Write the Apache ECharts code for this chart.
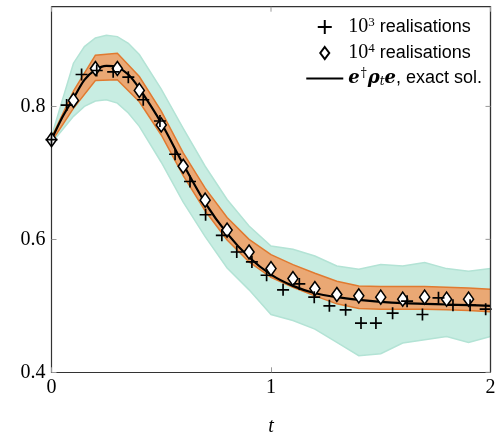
<!DOCTYPE html>
<html>
<head>
<meta charset="utf-8">
<script src="https://cdn.jsdelivr.net/npm/echarts@6/dist/echarts.min.js"></script>
<style>
html,body{margin:0;padding:0;background:#fff;}
#chart{width:497px;height:432px;}
</style>
</head>
<body>
<div id="chart"></div>
<script>
// ---- data ----
const xTicks = [0, 1, 2];
const yTicks = [0.4, 0.6, 0.8];
const xRange = [0, 2];
const yRange = [0.4, 0.95];

// exact solution e^† rho_t e
const exactT = [0, 0.05, 0.1, 0.15, 0.2, 0.25, 0.3, 0.35, 0.4, 0.5, 0.6, 0.7, 0.8, 0.9, 1.0, 1.1, 1.2, 1.3, 1.4, 1.5, 1.6, 1.7, 1.8, 1.9, 2.0];
const exactV = [0.750, 0.784, 0.812, 0.840, 0.855, 0.861, 0.859, 0.848, 0.827, 0.775, 0.713, 0.655, 0.609, 0.573, 0.547, 0.530, 0.519, 0.513, 0.509, 0.506, 0.504, 0.503, 0.502, 0.501, 0.500];

// 10^3 realisations (crosses)
const t3 = [0, 0.069, 0.137, 0.206, 0.281, 0.350, 0.418, 0.494, 0.563, 0.631, 0.702, 0.776, 0.844, 0.913, 0.980, 1.055, 1.129, 1.197, 1.266, 1.340, 1.410, 1.478, 1.554, 1.620, 1.690, 1.763, 1.829, 1.907, 1.978];
const v3 = [0.750, 0.802, 0.848, 0.854, 0.852, 0.844, 0.810, 0.778, 0.728, 0.687, 0.637, 0.606, 0.581, 0.566, 0.546, 0.524, 0.533, 0.513, 0.500, 0.494, 0.474, 0.474, 0.489, 0.507, 0.487, 0.512, 0.501, 0.501, 0.495];

// 10^4 realisations (diamonds)
const t4 = [0, 0.1, 0.2, 0.3, 0.4, 0.5, 0.6, 0.7, 0.8, 0.9, 1.0, 1.1, 1.2, 1.3, 1.4, 1.5, 1.6, 1.7, 1.8, 1.9];
const v4 = [0.750, 0.809, 0.857, 0.857, 0.824, 0.772, 0.710, 0.659, 0.614, 0.581, 0.556, 0.541, 0.526, 0.517, 0.515, 0.513, 0.510, 0.513, 0.510, 0.510];

// spread band of 10^3 realisations
const band3T = [0, 0.05, 0.1, 0.15, 0.2, 0.25, 0.3, 0.35, 0.4, 0.5, 0.6, 0.7, 0.8, 0.9, 1.0, 1.1, 1.2, 1.3, 1.4, 1.5, 1.6, 1.7, 1.8, 1.9, 2.0];
const band3Hi = [0.755, 0.810, 0.865, 0.890, 0.903, 0.907, 0.905, 0.895, 0.878, 0.826, 0.767, 0.710, 0.660, 0.620, 0.590, 0.585, 0.575, 0.560, 0.555, 0.562, 0.560, 0.565, 0.556, 0.552, 0.556];
const band3Lo = [0.745, 0.765, 0.785, 0.800, 0.808, 0.810, 0.805, 0.790, 0.770, 0.716, 0.656, 0.604, 0.557, 0.524, 0.487, 0.478, 0.465, 0.445, 0.425, 0.428, 0.444, 0.449, 0.454, 0.445, 0.454];

// spread band of 10^4 realisations
const band4T = [0, 0.1, 0.2, 0.3, 0.4, 0.5, 0.6, 0.7, 0.8, 0.9, 1.0, 1.1, 1.2, 1.3, 1.4, 1.5, 1.6, 1.7, 1.8, 1.9, 2.0];
const band4Hi = [0.753, 0.823, 0.877, 0.880, 0.845, 0.793, 0.730, 0.677, 0.633, 0.600, 0.577, 0.562, 0.549, 0.537, 0.530, 0.529, 0.529, 0.529, 0.528, 0.527, 0.525];
const band4Lo = [0.747, 0.797, 0.839, 0.840, 0.807, 0.757, 0.696, 0.643, 0.599, 0.566, 0.543, 0.528, 0.515, 0.503, 0.496, 0.495, 0.495, 0.495, 0.494, 0.493, 0.491];

// ---- chart ----
const chart = echarts.init(document.getElementById('chart'), null, {renderer: 'canvas'});

function band(tArr, lo, hi, fill, edge) {
  return {
    type: 'custom', silent: true, z: 1, clip: true,
    coordinateSystem: 'cartesian2d',
    data: [[tArr[0], lo[0]]],
    renderItem: function (params, api) {
      const up = tArr.map((t, i) => api.coord([t, hi[i]]));
      const dn = tArr.map((t, i) => api.coord([t, lo[i]]));
      const poly = up.concat(dn.slice().reverse());
      return {
        type: 'group',
        children: [
          {type: 'polygon', shape: {points: poly}, style: {fill: fill}},
          {type: 'polyline', shape: {points: up}, style: {stroke: edge, lineWidth: 1.5, fill: null}},
          {type: 'polyline', shape: {points: dn}, style: {stroke: edge, lineWidth: 1.5, fill: null}}
        ]
      };
    }
  };
}

const serif = 'Liberation Serif';
const frameColor = '#333';
const tickColor = '#999';

// top and right edges of the frame, with inward ticks, placed via the axes' scales
const frameSeries = {
  type: 'custom', silent: true, z: 8, clip: false,
  coordinateSystem: 'cartesian2d',
  data: [[xRange[1], yRange[1]]],
  renderItem: function (params, api) {
    const tl = api.coord([xRange[0], yRange[1]]);
    const tr = api.coord([xRange[1], yRange[1]]);
    const br = api.coord([xRange[1], yRange[0]]);
    const kids = [
      {type: 'polyline', shape: {points: [tl, tr, br]}, style: {stroke: frameColor, lineWidth: 1.3, fill: null}}
    ];
    xTicks.forEach(x => {
      const p = api.coord([x, yRange[1]]);
      kids.push({type: 'line', shape: {x1: p[0], y1: p[1], x2: p[0], y2: p[1] + 5}, style: {stroke: tickColor, lineWidth: 1}});
    });
    yTicks.forEach(y => {
      const p = api.coord([xRange[1], y]);
      kids.push({type: 'line', shape: {x1: p[0], y1: p[1], x2: p[0] - 5, y2: p[1]}, style: {stroke: tickColor, lineWidth: 1}});
    });
    return {type: 'group', children: kids};
  }
};

const option = {
  animation: false,
  grid: {left: 51.5, right: 6.5, top: 6.7, bottom: 59.7, containLabel: false, outerBoundsMode: 'none'},
  xAxis: {
    type: 'value', min: xRange[0], max: xRange[1], interval: 1,
    axisLine: {show: true, onZero: false, lineStyle: {color: frameColor, width: 1.2}},
    axisTick: {show: true, inside: true, length: 5, lineStyle: {color: tickColor, width: 1}},
    splitLine: {show: false},
    axisLabel: {fontFamily: serif, fontSize: 20, color: '#000', margin: 5,
      formatter: v => xTicks.includes(v) ? String(v) : ''},
    name: 't', nameLocation: 'middle', nameGap: 44,
    nameTextStyle: {fontFamily: serif, fontStyle: 'italic', fontSize: 20, color: '#000'}
  },
  yAxis: {
    type: 'value', min: yRange[0], max: yRange[1], interval: 0.2,
    axisLine: {show: true, onZero: false, lineStyle: {color: frameColor, width: 1.2}},
    axisTick: {show: true, inside: true, length: 5, lineStyle: {color: tickColor, width: 1}},
    splitLine: {show: false},
    axisLabel: {fontFamily: serif, fontSize: 20, color: '#000', margin: 6,
      formatter: v => yTicks.some(y => Math.abs(y - v) < 1e-6) ? v.toFixed(1) : ''}
  },
  legend: {
    orient: 'vertical', right: 10, top: 11, itemGap: 5, itemWidth: 37, itemHeight: 14,
    align: 'left', selectedMode: false,
    data: [
      {name: '10^3'},
      {name: '10^4', icon: 'path://M0,0M18.5,1L23,7L18.5,13L14,7ZM37,14'},
      {name: 'exact', icon: 'path://M0,0M0,5.9H37V8.1H0ZM37,14'}
    ],
    textStyle: {
      fontFamily: 'Liberation Sans', fontSize: 18, color: '#000',
      rich: {
        m: {fontFamily: serif, fontSize: 20, color: '#000'},
        sup: {fontFamily: serif, fontSize: 13, color: '#000', padding: [0, 0, 9, 0]},
        s: {fontFamily: 'Liberation Sans', fontSize: 18, color: '#000'},
        b: {fontFamily: 'DejaVu Serif', fontStyle: 'italic', fontWeight: 'bold', fontSize: 18, color: '#000'},
        dag: {fontFamily: 'DejaVu Serif', fontSize: 12, color: '#000', padding: [0, 1, 9, 1]},
        sub: {fontFamily: 'DejaVu Serif', fontStyle: 'italic', fontSize: 12, color: '#000', padding: [7, 0, 0, 0]}
      }
    },
    formatter: function (n) {
      if (n === '10^3') return '{m|10}{sup|3}{s| realisations}';
      if (n === '10^4') return '{m|10}{sup|4}{s| realisations}';
      return '{b|e}{dag|†}{b|ρ}{sub|t}{b|e}{s|, exact sol.}';
    }
  },
  series: [
    band(band3T, band3Lo, band3Hi, '#c8ede2', '#b3e3d5'),
    band(band4T, band4Lo, band4Hi, '#eaa874', '#e07a30'),
    frameSeries,
    {
      name: 'exact', type: 'line', z: 3, smooth: 0.3, symbol: 'none',
      data: exactT.map((t, i) => [t, exactV[i]]),
      lineStyle: {color: '#000', width: 2.2}, itemStyle: {color: '#000'}
    },
    {
      name: '10^3', type: 'scatter', z: 5,
      symbol: 'path://M4.3,0H5.7V4.3H10V5.7H5.7V10H4.3V5.7H0V4.3H4.3Z', symbolSize: 12, symbolKeepAspect: true,
      data: t3.map((t, i) => [t, v3[i]]),
      itemStyle: {color: '#000', opacity: 1}
    },
    {
      name: '10^4', type: 'scatter', z: 4,
      symbol: 'diamond', symbolSize: [10, 14],
      data: t4.map((t, i) => [t, v4[i]]),
      itemStyle: {color: '#fff', borderColor: '#000', borderWidth: 1.6, opacity: 1}
    }
  ]
};
chart.setOption(option);
</script>
</body>
</html>
